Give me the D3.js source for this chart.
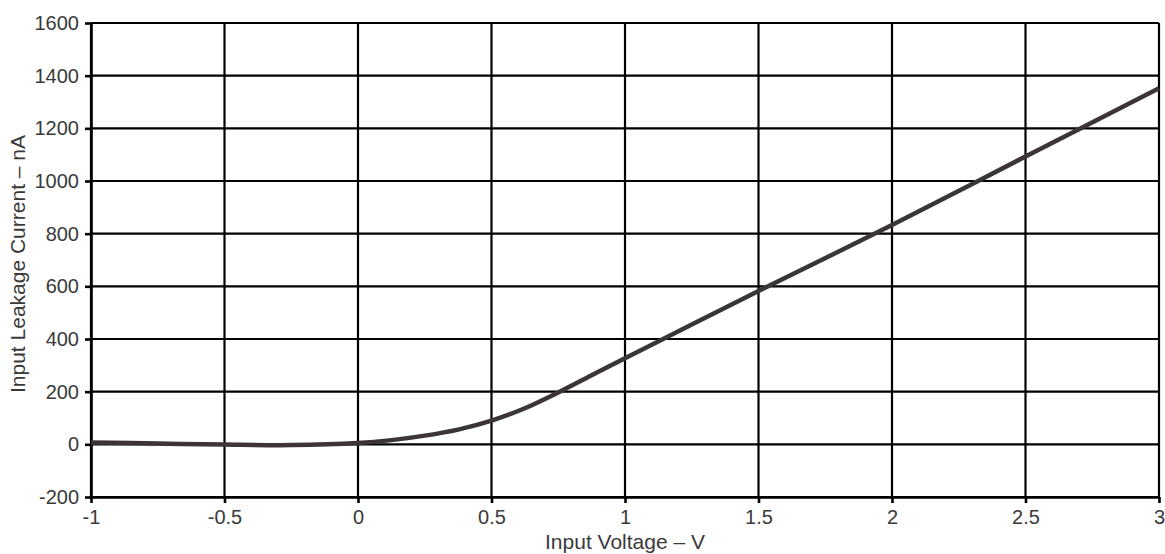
<!DOCTYPE html>
<meta charset="utf-8">
<style>
body { margin: 0; background: #fff; }
text { font-family: "Liberation Sans", Arial, sans-serif; fill: #3a3a3a; }
.grid line { stroke: #000; stroke-width: 2.2; }
.axis path, .axis line { stroke: #000; stroke-width: 2.6; }
.axis text { font-size: 20px; }
.curve { fill: none; stroke: #3b3537; stroke-width: 4.5; }
</style>
<body>
<svg width="1165" height="554"></svg>
<script src="https://d3js.org/d3.v7.min.js"></script>
<script>

// tick values
var xTicks = [-1, -0.5, 0, 0.5, 1, 1.5, 2, 2.5, 3];
var yTicks = [-200, 0, 200, 400, 600, 800, 1000, 1200, 1400, 1600];

// curve (V, nA)
var voltage = [-1, -0.75, -0.5, -0.25, 0, 0.125, 0.25, 0.375, 0.5, 0.625, 0.75, 0.875, 1, 1.25, 1.5, 2, 2.5, 3];
var current = [7, 3, -1, -3, 5, 16, 33, 56, 90, 137, 197, 262, 327, 455, 582, 833, 1093, 1352];

var svg = d3.select("svg"),
    margin = {top: 23, right: 6, bottom: 57, left: 91},
    width = +svg.attr("width") - margin.left - margin.right,
    height = +svg.attr("height") - margin.top - margin.bottom;

var x = d3.scaleLinear().domain([-1, 3]).range([0, width]),
    y = d3.scaleLinear().domain([-200, 1600]).range([height, 0]);

var g = svg.append("g")
    .attr("transform", "translate(" + margin.left + "," + margin.top + ")");

// grid
g.append("g").attr("class", "grid")
  .selectAll("line").data(xTicks)
  .enter().append("line")
    .attr("x1", function(d) { return x(d); })
    .attr("x2", function(d) { return x(d); })
    .attr("y1", 0).attr("y2", height);

g.append("g").attr("class", "grid")
  .selectAll("line").data(yTicks)
  .enter().append("line")
    .attr("x1", 0).attr("x2", width)
    .attr("y1", function(d) { return y(d); })
    .attr("y2", function(d) { return y(d); });

// axes
g.append("g")
    .attr("class", "axis")
    .attr("transform", "translate(0," + height + ")")
    .call(d3.axisBottom(x).tickValues(xTicks).tickSize(6).tickPadding(7).tickSizeOuter(0)
      .tickFormat(function(d) { return String(d); }));

g.append("g")
    .attr("class", "axis")
    .call(d3.axisLeft(y).tickValues(yTicks).tickSize(6).tickPadding(6).tickSizeOuter(0)
      .tickFormat(function(d) { return String(d); }));

// curve
var line = d3.line()
    .x(function(d, i) { return x(voltage[i]); })
    .y(function(d) { return y(d); })
    .curve(d3.curveCatmullRom.alpha(0.5));

g.append("path")
    .datum(current)
    .attr("class", "curve")
    .attr("d", line);

// axis titles
svg.append("text")
    .attr("x", margin.left + width / 2)
    .attr("y", 549)
    .attr("text-anchor", "middle")
    .style("font-size", "21px")
    .text("Input Voltage \u2013 V");

svg.append("text")
    .attr("transform", "translate(25," + (margin.top + height / 2 + 4) + ") rotate(-90)")
    .attr("text-anchor", "middle")
    .style("font-size", "21px")
    .text("Input Leakage Current \u2013 nA");

</script>
</body>
